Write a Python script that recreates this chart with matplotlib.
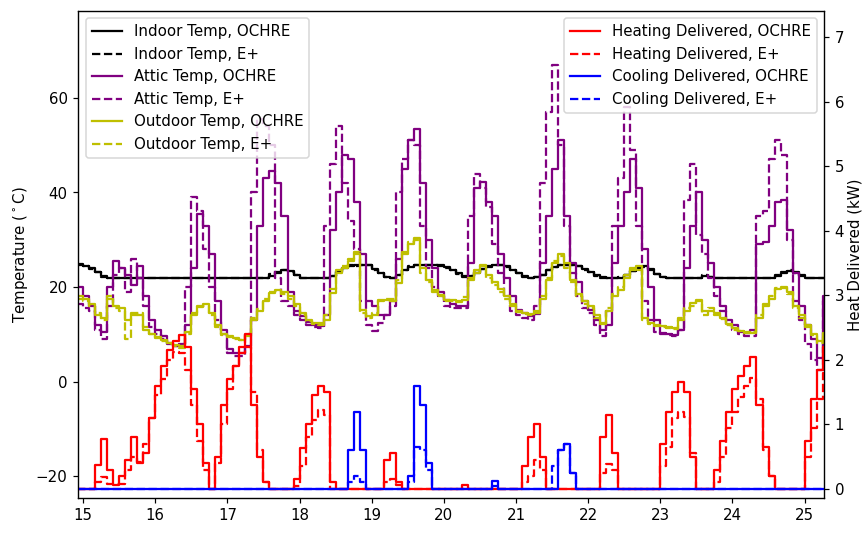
import numpy as np
import matplotlib
matplotlib.use("Agg")
import matplotlib.pyplot as plt

# 2-hourly samples, first sample at day 14 22:00
t0 = 14 + 22 / 24

# temperatures (deg C)
indoor_ochre = [24.8,
    24.5, 24.0, 23.2, 22.3, 22.0, 22.0, 22.0, 22.0, 22.0, 22.0, 22.0, 22.0,
    22.0, 22.0, 22.0, 22.0, 22.0, 22.0, 22.0, 22.0, 22.0, 22.0, 22.0, 22.0,
    22.0, 22.0, 22.0, 22.0, 22.0, 22.0, 22.0, 22.3, 23.0, 23.5, 23.3, 22.6,
    22.0, 22.0, 22.0, 22.0, 22.0, 22.3, 23.2, 24.0, 24.5, 24.7, 24.7, 24.7,
    23.8, 23.0, 22.2, 22.0, 22.5, 23.5, 24.3, 24.7, 24.7, 24.7, 24.7, 24.6,
    24.2, 23.6, 22.9, 22.3, 22.3, 23.0, 23.8, 24.3, 24.6, 24.7, 24.4, 23.6,
    23.0, 22.3, 22.0, 22.1, 22.5, 23.5, 24.2, 24.7, 24.7, 24.7, 24.5, 23.8,
    23.2, 22.5, 22.1, 22.0, 22.0, 22.0, 22.5, 23.3, 24.0, 24.4, 23.8, 22.8,
    22.2, 22.0, 22.0, 22.0, 22.0, 22.0, 22.0, 22.4, 22.2, 22.0, 22.0, 22.0,
    22.0, 22.0, 22.0, 22.0, 22.0, 22.0, 22.0, 22.3, 23.0, 23.4, 23.2, 22.5,
    22.0, 22.0, 22.0, 22.0, 22.0]
indoor_eplus = [24.7,
    24.4, 23.9, 23.1, 22.2, 22.0, 22.0, 22.0, 22.0, 22.0, 22.0, 22.0, 22.0,
    22.0, 22.0, 22.0, 22.0, 22.0, 22.0, 22.0, 22.0, 22.0, 22.0, 22.0, 22.0,
    22.0, 22.0, 22.0, 22.0, 22.0, 22.0, 22.0, 22.7, 23.2, 23.6, 23.2, 22.5,
    22.0, 22.0, 22.0, 22.0, 22.0, 22.4, 23.3, 24.1, 24.6, 24.5, 24.7, 24.6,
    23.7, 22.9, 22.1, 22.0, 22.6, 23.6, 24.4, 24.7, 24.6, 24.7, 24.7, 24.5,
    24.1, 23.5, 22.8, 22.2, 22.4, 23.1, 23.9, 24.4, 24.6, 24.6, 24.3, 23.5,
    22.9, 22.2, 22.0, 22.2, 22.6, 23.6, 24.3, 24.6, 24.7, 24.6, 24.4, 23.7,
    23.1, 22.4, 22.0, 22.0, 22.0, 22.1, 22.6, 23.4, 24.1, 24.3, 23.7, 22.7,
    22.1, 22.0, 22.0, 22.0, 22.0, 22.0, 22.0, 22.5, 22.1, 22.0, 22.0, 22.0,
    22.0, 22.0, 22.0, 22.0, 22.0, 22.0, 22.0, 22.5, 23.1, 23.5, 23.0, 22.4,
    22.0, 22.0, 22.0, 22.0, 22.0]
attic_ochre = [20.0,
    18.0, 16.0, 12.0, 10.5, 20.0, 25.5, 24.0, 22.5, 20.5, 24.5, 18.0, 13.0,
    11.0, 9.6, 8.2, 7.5, 8.0, 12.0, 24.0, 35.5, 33.0, 27.0, 17.0, 11.0,
    6.8, 6.0, 6.0, 7.5, 13.0, 33.0, 43.0, 44.5, 42.0, 35.0, 19.0, 15.0,
    13.8, 12.7, 12.0, 11.7, 14.0, 32.0, 40.0, 48.0, 47.0, 38.0, 27.0, 17.0,
    15.9, 14.0, 14.0, 17.0, 26.0, 45.0, 51.0, 53.5, 42.0, 30.0, 24.0, 19.0,
    17.3, 16.5, 16.0, 16.0, 25.0, 41.0, 42.3, 38.0, 35.0, 27.0, 22.0, 18.0,
    15.2, 14.5, 13.8, 14.2, 25.0, 35.0, 45.0, 51.0, 35.0, 25.0, 21.0, 17.0,
    15.2, 13.1, 11.0, 12.0, 25.0, 33.0, 40.0, 47.0, 41.0, 28.0, 20.0, 13.0,
    10.3, 10.0, 9.9, 11.0, 24.0, 33.0, 40.0, 30.0, 25.0, 20.0, 16.0, 13.0,
    12.0, 10.5, 10.3, 11.0, 29.0, 29.5, 33.0, 38.0, 38.5, 32.0, 23.0, 16.0,
    12.0, 9.0, 5.0, 18.0, 18.0]
attic_eplus = [16.5,
    15.5, 15.0, 11.0, 9.0, 16.0, 22.5, 24.0, 19.0, 26.0, 22.0, 16.0, 11.5,
    10.0, 9.0, 8.0, 7.5, 8.0, 20.0, 39.0, 36.0, 28.0, 20.0, 13.0, 10.0,
    6.0, 5.5, 5.5, 10.0, 40.0, 55.5, 54.0, 50.0, 22.0, 17.0, 16.0, 14.0,
    13.0, 12.0, 11.5, 11.3, 33.0, 46.0, 54.0, 42.0, 34.0, 28.0, 17.0, 12.0,
    10.6, 12.5, 14.0, 15.9, 40.0, 47.0, 51.0, 50.0, 33.0, 24.0, 20.0, 18.0,
    16.0, 15.5, 15.5, 15.5, 35.0, 44.0, 41.0, 37.0, 29.0, 23.0, 18.0, 15.0,
    14.0, 13.5, 13.1, 16.0, 42.0, 57.0, 67.0, 50.0, 33.0, 23.0, 18.0, 15.5,
    14.5, 12.0, 9.6, 15.0, 33.0, 43.0, 58.0, 49.0, 33.0, 17.0, 13.0, 10.5,
    10.0, 9.8, 9.6, 11.0, 38.5, 46.0, 31.0, 27.0, 22.0, 18.0, 15.0, 12.0,
    11.0, 10.0, 9.6, 9.6, 35.0, 36.0, 47.0, 51.0, 48.0, 30.0, 17.0, 13.0,
    8.0, 4.5, 2.5, 17.0, 17.0]
outdoor_ochre = [18.0,
    17.5, 16.5, 14.0, 13.5, 17.5, 16.0, 15.5, 13.0, 14.5, 14.0, 11.0, 10.0,
    9.5, 8.8, 8.2, 7.8, 7.5, 10.5, 14.0, 15.8, 16.5, 14.5, 12.0, 10.0,
    9.6, 9.2, 8.9, 9.6, 13.0, 15.0, 17.0, 18.7, 19.4, 19.0, 18.0, 16.5,
    14.5, 13.1, 12.5, 12.4, 13.1, 18.7, 23.0, 24.0, 25.5, 27.0, 15.2, 13.8,
    14.0, 17.3, 17.3, 17.0, 20.8, 27.0, 29.0, 30.4, 24.0, 21.5, 19.4, 18.4,
    17.3, 17.2, 17.0, 17.3, 21.5, 23.5, 24.5, 22.5, 21.0, 19.5, 18.0, 16.5,
    15.0, 14.5, 14.2, 14.5, 17.5, 21.5, 25.0, 27.0, 25.0, 21.5, 18.5, 17.0,
    15.9, 14.0, 12.5, 15.0, 18.0, 19.4, 22.0, 23.5, 24.4, 13.5, 12.5, 12.0,
    11.7, 11.5, 11.3, 13.0, 15.0, 16.6, 17.3, 15.0, 15.0, 14.5, 13.5, 12.2,
    11.3, 10.8, 10.5, 10.3, 13.5, 16.0, 17.5, 19.5, 20.0, 19.0, 16.0, 14.0,
    12.0, 10.0, 8.5, 10.3, 10.3]
outdoor_eplus = [17.5,
    17.0, 16.0, 14.5, 13.0, 18.0, 15.5, 15.0, 9.0, 14.0, 14.5, 11.5, 10.0,
    9.2, 8.6, 8.0, 7.6, 7.2, 10.0, 14.5, 16.0, 16.0, 14.0, 11.5, 9.8,
    9.4, 9.0, 8.7, 9.8, 13.5, 15.3, 17.5, 19.0, 19.2, 18.6, 17.5, 16.0,
    14.0, 12.8, 12.2, 12.0, 14.0, 19.5, 23.5, 24.5, 26.0, 27.5, 14.5, 13.5,
    14.5, 17.0, 17.5, 17.5, 21.5, 27.5, 29.5, 30.0, 23.0, 21.0, 19.0, 18.0,
    17.0, 17.0, 16.8, 17.8, 22.0, 23.0, 24.7, 22.0, 20.5, 19.0, 17.5, 16.0,
    14.8, 14.2, 14.0, 15.0, 18.0, 22.0, 25.5, 26.5, 24.0, 21.0, 18.0, 16.5,
    15.5, 13.5, 12.2, 15.5, 18.5, 20.0, 22.5, 24.0, 23.5, 13.0, 12.2, 11.8,
    11.5, 11.3, 11.2, 13.5, 15.5, 16.0, 17.0, 14.0, 15.5, 14.0, 13.2, 12.0,
    11.0, 10.6, 10.3, 10.5, 14.0, 16.5, 18.0, 19.8, 19.8, 18.5, 15.5, 13.5,
    11.5, 9.8, 8.2, 9.5, 9.5]

# heat delivered (kW)
heat_ochre = [0,
    0, 0, 0.37, 0.77, 0.3, 0.06, 0.2, 0.45, 0.8, 0.4, 0.55, 1.1,
    1.6, 1.9, 2.15, 2.3, 2.38, 2.2, 1.55, 1.0, 0.4, 0, 0.5, 1.3,
    1.7, 1.9, 2.2, 2.4, 1.3, 0.5, 0.1, 0, 0, 0, 0, 0.15,
    0.63, 1.0, 1.45, 1.6, 1.5, 0.1, 0, 0, 0, 0, 0, 0,
    0, 0, 0.45, 0.55, 0.1, 0, 0, 0, 0, 0, 0, 0,
    0, 0, 0, 0.06, 0, 0, 0, 0, 0, 0, 0, 0,
    0, 0.35, 0.8, 1.0, 0.5, 0, 0, 0, 0, 0, 0, 0,
    0, 0, 0.8, 1.15, 0.55, 0, 0, 0, 0, 0, 0, 0,
    0.7, 1.2, 1.5, 1.65, 1.5, 0.5, 0, 0, 0, 0.3, 0.75, 1.2,
    1.55, 1.75, 1.9, 2.05, 1.3, 0.65, 0.2, 0, 0, 0, 0, 0,
    0.75, 1.4, 1.85, 2.2, 2.2]
heat_eplus = [0,
    0, 0, 0.1, 0.18, 0.07, 0.08, 0.08, 0.3, 0.5, 0.42, 0.7, 1.1,
    1.45, 1.7, 2.0, 2.12, 2.1, 1.85, 1.3, 0.75, 0.3, 0, 0.4, 1.0,
    1.55, 1.9, 2.1, 2.2, 1.5, 0.6, 0.1, 0, 0, 0, 0, 0.05,
    0.36, 0.8, 1.07, 1.22, 1.15, 0, 0, 0, 0, 0, 0, 0,
    0, 0, 0.1, 0.16, 0.06, 0, 0, 0, 0, 0, 0, 0,
    0, 0, 0, 0, 0, 0, 0, 0, 0, 0, 0, 0,
    0, 0.1, 0.2, 0.45, 0.3, 0, 0, 0, 0, 0, 0, 0,
    0, 0, 0.25, 0.38, 0.3, 0, 0, 0, 0, 0, 0, 0,
    0.36, 0.65, 1.1, 1.2, 1.12, 0.55, 0, 0, 0, 0.1, 0.5, 0.95,
    1.2, 1.42, 1.6, 1.72, 1.4, 0.6, 0.2, 0, 0, 0, 0, 0,
    0.5, 0.95, 1.4, 1.8, 1.85]
cool_ochre = [0,
    0, 0, 0, 0, 0, 0, 0, 0, 0, 0, 0, 0,
    0, 0, 0, 0, 0, 0, 0, 0, 0, 0, 0, 0,
    0, 0, 0, 0, 0, 0, 0, 0, 0, 0, 0, 0,
    0, 0, 0, 0, 0, 0, 0, 0, 0.6, 1.2, 0.6, 0,
    0, 0, 0, 0, 0, 0, 0.2, 1.6, 1.3, 0.4, 0, 0,
    0, 0, 0, 0, 0, 0, 0, 0, 0.12, 0, 0, 0,
    0, 0, 0, 0, 0, 0, 0, 0.6, 0.7, 0.25, 0, 0,
    0, 0, 0, 0, 0, 0, 0, 0, 0, 0, 0, 0,
    0, 0, 0, 0, 0, 0, 0, 0, 0, 0, 0, 0,
    0, 0, 0, 0, 0, 0, 0, 0, 0, 0, 0, 0,
    0, 0, 0, 0, 0]
cool_eplus = [0,
    0, 0, 0, 0, 0, 0, 0, 0, 0, 0, 0, 0,
    0, 0, 0, 0, 0, 0, 0, 0, 0, 0, 0, 0,
    0, 0, 0, 0, 0, 0, 0, 0, 0, 0, 0, 0,
    0, 0, 0, 0, 0, 0, 0, 0, 0.1, 0.2, 0.1, 0,
    0, 0, 0, 0, 0, 0, 0.1, 0.65, 0.6, 0.3, 0, 0,
    0, 0, 0, 0, 0, 0, 0, 0, 0.05, 0, 0, 0,
    0, 0, 0, 0, 0, 0, 0.35, 0.6, 0.7, 0.25, 0, 0,
    0, 0, 0, 0, 0, 0, 0, 0, 0, 0, 0, 0,
    0, 0, 0, 0, 0, 0, 0, 0, 0, 0, 0, 0,
    0, 0, 0, 0, 0, 0, 0, 0, 0, 0, 0, 0,
    0, 0, 0, 0, 0]

t = t0 + np.arange(len(indoor_ochre)) / 12

fig = plt.figure(figsize=(8.0, 5.056), dpi=108)
ax = fig.add_axes([0.0903, 0.088, 0.8635, 0.892])
ax2 = ax.twinx()

temp_series = [
    (indoor_ochre, 'k', '-', 'Indoor Temp, OCHRE'),
    (indoor_eplus, 'k', '--', 'Indoor Temp, E+'),
    (attic_ochre, 'purple', '-', 'Attic Temp, OCHRE'),
    (attic_eplus, 'purple', '--', 'Attic Temp, E+'),
    (outdoor_ochre, 'y', '-', 'Outdoor Temp, OCHRE'),
    (outdoor_eplus, 'y', '--', 'Outdoor Temp, E+'),
]
for vals, c, ls, lab in temp_series:
    ax.step(t, vals, where='post', color=c, ls=ls, label=lab)

heat_series = [
    (heat_ochre, 'r', '-', 'Heating Delivered, OCHRE'),
    (heat_eplus, 'r', '--', 'Heating Delivered, E+'),
    (cool_ochre, 'b', '-', 'Cooling Delivered, OCHRE'),
    (cool_eplus, 'b', '--', 'Cooling Delivered, E+'),
]
for vals, c, ls, lab in heat_series:
    ax2.step(t, vals, where='post', color=c, ls=ls, label=lab)

ax.set_xlim(14.93, 25.27)
ax.set_ylim(-24.6, 78.4)
ax2.set_ylim(-0.14, 7.41)
ax.set_xticks(range(15, 26))
ax.set_yticks([-20, 0, 20, 40, 60])
ax2.set_yticks(range(0, 8))
ax.set_ylabel('Temperature ($^\\circ$C)')
ax2.set_ylabel('Heat Delivered (kW)', labelpad=2)
ax.legend(loc='upper left')
ax2.legend(loc='upper right')

fig.savefig('out.png', dpi=108)
